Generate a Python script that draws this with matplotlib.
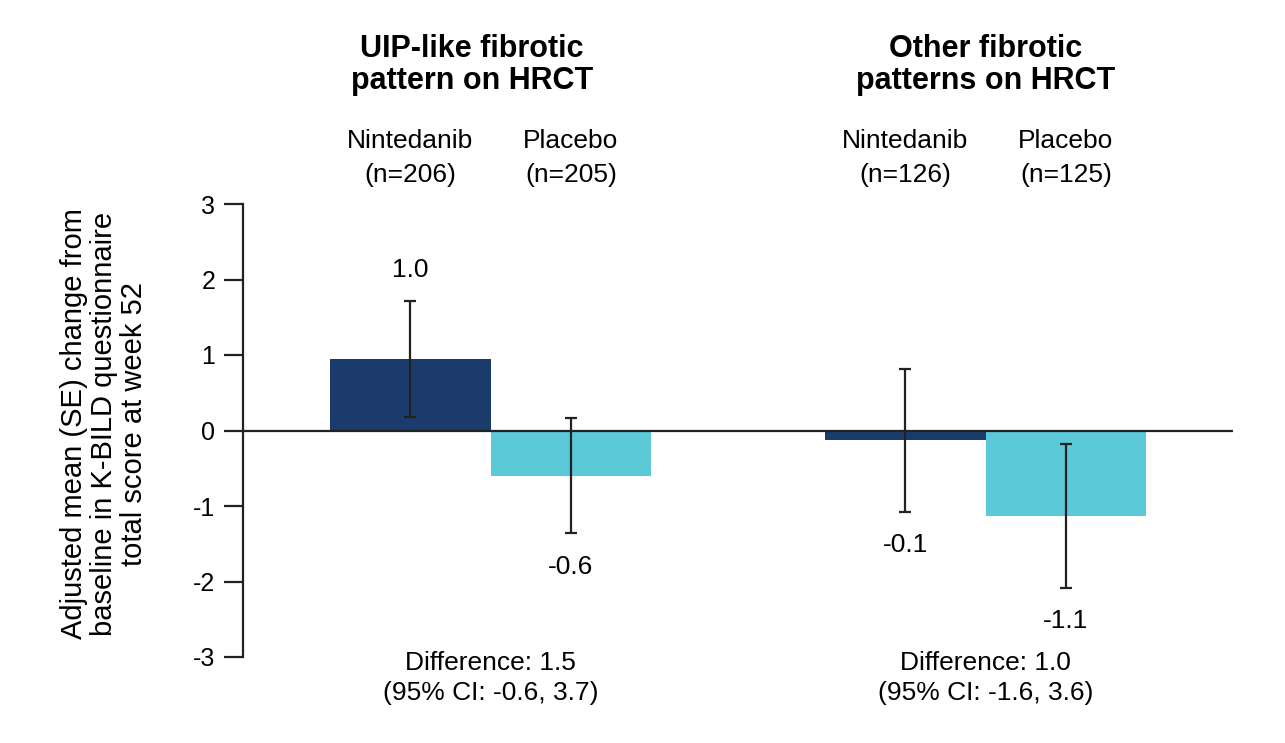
import matplotlib
matplotlib.use("Agg")
import matplotlib.pyplot as plt
import matplotlib.transforms as mtransforms
import numpy as np

plt.rcParams['font.family'] = ['Liberation Sans', 'DejaVu Sans']
plt.rcParams['axes.unicode_minus'] = False

groups = ["UIP-like fibrotic\npattern on HRCT", "Other fibrotic\npatterns on HRCT"]
arms = ["Nintedanib", "Placebo"]
n_counts = [[206, 205], [126, 125]]
means = [[0.95, -0.60], [-0.13, -1.13]]
se = [[0.77, 0.76], [0.95, 0.95]]
value_labels = [["1.0", "-0.6"], ["-0.1", "-1.1"]]
differences = ["Difference: 1.5\n(95% CI: -0.6, 3.7)", "Difference: 1.0\n(95% CI: -1.6, 3.6)"]
colors = ["#1b3b6c", "#5bc9d8"]

fig = plt.figure(figsize=(12.85, 7.43), dpi=100)
ax = fig.add_axes([243 / 1285, 86 / 743, 990 / 1285, 453 / 743])

width = 0.325
x = np.arange(len(groups))
fs = 19
trans = mtransforms.blended_transform_factory(ax.transData, fig.transFigure)

for j, arm in enumerate(arms):
    offs = (j - 0.5) * width
    vals = [m[j] for m in means]
    errs = [s[j] for s in se]
    ax.bar(x + offs, vals, width=width, color=colors[j], zorder=2)
    ax.errorbar(x + offs, vals, yerr=errs, fmt='none', ecolor='#222222',
                elinewidth=1.6, capsize=4.5, capthick=1.6, zorder=3)
    for i in range(len(groups)):
        v = means[i][j]
        e = se[i][j]
        if v >= 0:
            ax.annotate(value_labels[i][j], (x[i] + offs, v + e), xytext=(0, 22),
                        textcoords='offset points', ha='center', va='center', fontsize=fs)
        else:
            ax.annotate(value_labels[i][j], (x[i] + offs, v - e), xytext=(0, -24),
                        textcoords='offset points', ha='center', va='center', fontsize=fs)
        ax.text(x[i] + offs, 0.787, f"{arm}\n(n={n_counts[i][j]})", transform=trans,
                ha='center', va='center', fontsize=fs, linespacing=1.53)

title_shift = [-0.037, 0.0]
for i, g in enumerate(groups):
    ax.text(x[i] + title_shift[i], 0.9125, g, transform=trans, ha='center', va='center',
            fontsize=22, fontweight='bold', linespacing=1.07)
    ax.text(x[i], 0.0875, differences[i], transform=trans, ha='center', va='center',
            fontsize=fs, linespacing=1.36)

ax.axhline(0, color='#222222', lw=1.6, zorder=4)
ax.set_xlim(-0.5, 1.5)
ax.set_ylim(-3, 3)
ax.set_yticks(range(-3, 4))
ax.set_xticks([])
for s in ['top', 'right', 'bottom']:
    ax.spines[s].set_visible(False)
ax.spines['left'].set_linewidth(1.6)
ax.spines['left'].set_color('#222222')
ax.tick_params(axis='y', length=14, width=1.6, color='#222222', labelsize=18, pad=6)

fig.text(104 / 1285, 1 - 424 / 743,
         "Adjusted mean (SE) change from\nbaseline in K-BILD questionnaire\ntotal score at week 52",
         rotation=90, ha='center', va='center', fontsize=21, linespacing=1.1,
         multialignment='center')

fig.savefig("out.png", dpi=100)
